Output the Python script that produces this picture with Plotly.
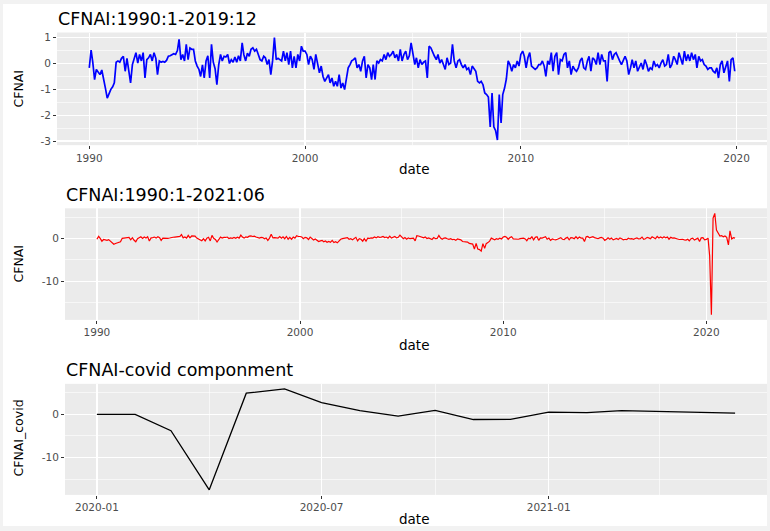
import pandas as pd
import plotly.graph_objects as go

W, H = 770, 531


def px(x):
    return x / W


def py(y):
    return 1 - y / H


# ---------------- data (monthly CFNAI) ----------------
cfnai_1990s = [
    -0.17, 0.52, 0.05, -0.62, -0.23, -0.35, -0.43, -0.25, -0.56, -0.95, -1.34, -1.15,
    -1.00, -0.90, -0.75, 0.05, 0.10, 0.05, 0.20, 0.28, -0.30, 0.20, -0.40, -0.75,
    -0.04, 0.22, 0.42, 0.02, 0.35, 0.10, 0.42, -0.56, 0.15, 0.22, 0.35, 0.10,
    0.42, 0.20, -0.43, 0.10, 0.05, 0.08, 0.05, 0.12, 0.28, 0.30, 0.35, 0.38,
    0.35, 0.50, 0.93, 0.15, 0.35, 0.10, 0.74, 0.15, 0.60, 0.55, 0.55, 0.10,
    -0.10, -0.23, -0.50, -0.05, -0.56, 0.10, 0.30, -0.56, 0.74, 0.05, -0.20, -0.82,
    -0.05, 0.35, 0.10, 0.28, 0.25, 0.35, 0.00, 0.15, 0.05, 0.25, 0.05, 0.30,
    0.10, 0.80, 0.35, 0.10, 0.40, 0.28, 0.55, 0.61, 0.48, 0.55, 0.35, 0.15,
    0.10, 0.28, 0.22, -0.04, 0.15, -0.43, 0.10, 1.00, 0.15, 0.20, 0.15, 0.10,
    0.48, 0.10, 0.42, -0.04, 0.48, -0.17, 0.28, -0.17, 0.35, 0.10, 0.67, 0.48,
]
cfnai_2000s = [
    0.48, 0.35, -0.04, 0.28, 0.15, -0.23, 0.35, -0.04, -0.36, -0.10, -0.50, -0.69,
    -0.56, -0.43, -0.75, -0.56, -0.88, -0.69, -0.88, -0.43, -0.95, -0.75, -1.01, -0.56,
    -0.17, -0.04, 0.10, 0.15, 0.22, -0.17, -0.04, -0.30, 0.10, 0.28, -0.56, -0.04,
    -0.17, -0.62, -0.04, -0.62, 0.10, 0.02, 0.15, 0.10, 0.35, 0.15, 0.42, 0.28,
    0.35, 0.48, 0.22, 0.35, 0.10, 0.55, 0.10, 0.35, 0.48, 0.15, 0.30, 0.80,
    0.42, -0.04, 0.22, -0.17, 0.15, -0.04, 0.05, 0.10, -0.56, 0.67, 0.60, 0.42,
    0.28, 0.15, 0.35, 0.02, 0.15, -0.04, -0.23, 0.22, -0.04, 0.02, 0.74, 0.10,
    -0.17, 0.10, 0.15, -0.04, -0.17, -0.04, -0.23, -0.17, -0.43, -0.10, -0.23, -0.30,
    -0.69, -0.75, -0.69, -0.82, -1.14, -1.20, -1.30, -2.45, -1.14, -2.45, -2.60, -2.96,
    -1.20, -2.30, -1.20, -0.95, -0.60, 0.10, -0.04, -0.30, -0.04, -0.17, 0.10, -0.10,
]
cfnai_2010s = [
    0.35, 0.48, 0.28, -0.17, 0.22, 0.42, -0.10, -0.17, -0.23, -0.17, -0.04, -0.04,
    0.10, -0.10, -0.50, 0.10, -0.04, 0.42, -0.30, 0.28, 0.42, -0.43, 0.15, 0.10,
    0.35, 0.42, -0.17, 0.10, -0.43, -0.10, -0.23, -0.30, -0.17, 0.10, 0.22, -0.17,
    -0.23, 0.10, 0.28, -0.30, 0.22, 0.15, -0.04, 0.42, -0.04, 0.35, 0.10, 0.10,
    -0.69, 0.42, 0.48, 0.15, 0.35, 0.42, 0.22, 0.10, -0.04, 0.15, 0.28, 0.10,
    -0.43, -0.17, 0.15, -0.17, 0.10, -0.30, -0.10, 0.02, -0.23, 0.15, -0.04, -0.30,
    -0.17, -0.23, 0.10, -0.10, -0.04, -0.17, 0.02, 0.15, -0.10, -0.04, 0.35, -0.17,
    -0.04, 0.28, 0.15, -0.04, 0.42, 0.15, -0.04, 0.48, 0.10, 0.35, 0.10, 0.42,
    0.15, 0.35, -0.17, 0.28, 0.10, 0.15, -0.04, -0.10, -0.23, -0.17, -0.17, -0.30,
    -0.36, -0.17, -0.56, -0.04, 0.10, -0.36, -0.17, 0.10, -0.69, 0.15, 0.22, -0.30,
]
cfnai_2020_21 = [-0.2, 0.1, -4.1, -17.9, 4.8, 5.9, 2.0, 1.2, 0.6, 0.7, 0.4, 0.6,
                 0.3, -1.5, 1.8, -0.1, 0.2, 0.1]
covid_component = [0.0, 0.0, -3.8, -17.5, 4.9, 5.9, 2.7, 0.85, -0.4, 0.9, -1.2, -1.15,
                   0.5, 0.4, 0.85, 0.7, 0.46, 0.3]

year_tick_vals = ["1990-01-01", "2000-01-01", "2010-01-01", "2020-01-01"]
year_tick_text = ["1990", "2000", "2010", "2020"]
year_minor_vals = ["1995-01-01", "2005-01-01", "2015-01-01"]
covid_tick_vals = ["2020-01-01", "2020-07-01", "2021-01-01"]
covid_tick_text = ["2020-01", "2020-07", "2021-01"]
covid_minor_vals = ["2020-04-01", "2020-10-01", "2021-04-01"]

titles = ["CFNAI:1990:1-2019:12", "CFNAI:1990:1-2021:06", "CFNAI-covid componment"]
y_titles = ["CFNAI", "CFNAI", "CFNAI_covid"]

# ---------------- build series ----------------
cfnai_pre = cfnai_1990s + cfnai_2000s + cfnai_2010s
cfnai_full = cfnai_pre + cfnai_2020_21
dates_pre = pd.date_range("1990-01-01", periods=len(cfnai_pre), freq="MS")
dates_full = pd.date_range("1990-01-01", periods=len(cfnai_full), freq="MS")
dates_covid = pd.date_range("2020-01-01", periods=len(covid_component), freq="MS")


def expand_num(v):
    lo, hi = min(v), max(v)
    d = (hi - lo) * 0.05
    return [lo - d, hi + d]


def expand_date(d):
    lo, hi = d[0], d[-1]
    e = (hi - lo) * 0.05
    return [(lo - e).strftime("%Y-%m-%d %H:%M:%S"), (hi + e).strftime("%Y-%m-%d %H:%M:%S")]


FONT = "DejaVu Sans"
TICKFONT = dict(family=FONT, size=10.5, color="#4D4D4D")

fig = go.Figure()
fig.add_trace(go.Scatter(x=dates_pre, y=cfnai_pre, mode="lines",
                         line=dict(color="#0000FF", width=1.7), xaxis="x", yaxis="y"))
fig.add_trace(go.Scatter(x=dates_full, y=cfnai_full, mode="lines",
                         line=dict(color="#FF0000", width=1.2), xaxis="x2", yaxis="y2"))
fig.add_trace(go.Scatter(x=dates_covid, y=covid_component, mode="lines",
                         line=dict(color="#000000", width=1.3), xaxis="x3", yaxis="y3"))


def xcfg(domain, rng, tv, tt, mv, anchor):
    return dict(domain=domain, range=rng, type="date", tickmode="array", tickvals=tv, ticktext=tt,
                ticks="outside", ticklen=3, tickwidth=1, tickcolor="#333333",
                tickfont=TICKFONT, showgrid=True, gridcolor="white", gridwidth=1.2,
                zeroline=False, showline=False, anchor=anchor, fixedrange=True,
                minor=dict(tickvals=mv, showgrid=True, gridcolor="white", gridwidth=0.6, ticks=""))


def ycfg(domain, rng, tv, mv, anchor):
    return dict(domain=domain, range=rng, tickmode="array", tickvals=tv,
                ticktext=[str(v) for v in tv],
                ticks="outside", ticklen=3, tickwidth=1, tickcolor="#333333",
                tickfont=TICKFONT, showgrid=True, gridcolor="white", gridwidth=1.2,
                zeroline=False, showline=False, anchor=anchor, fixedrange=True,
                minor=dict(tickvals=mv, showgrid=True, gridcolor="white", gridwidth=0.6, ticks=""))


L1, L2, R = 57, 65, 767
panels = [(31.7, 145.0), (208.5, 320.7), (385.0, 496.7)]

fig.update_layout(
    width=W, height=H,
    margin=dict(l=0, r=0, t=0, b=0),
    paper_bgcolor="white", plot_bgcolor="#EBEBEB",
    showlegend=False,
    xaxis=xcfg([px(L1), px(R)], expand_date(dates_pre), year_tick_vals, year_tick_text,
               year_minor_vals, "y"),
    yaxis=ycfg([py(panels[0][1]), py(panels[0][0])], expand_num(cfnai_pre),
               [-3, -2, -1, 0, 1], [-2.5, -1.5, -0.5, 0.5], "x"),
    xaxis2=xcfg([px(L2), px(R)], expand_date(dates_full), year_tick_vals, year_tick_text,
                year_minor_vals, "y2"),
    yaxis2=ycfg([py(panels[1][1]), py(panels[1][0])], expand_num(cfnai_full),
                [-10, 0], [-15, -5, 5], "x2"),
    xaxis3=xcfg([px(L2), px(R)], expand_date(dates_covid), covid_tick_vals, covid_tick_text,
                covid_minor_vals, "y3"),
    yaxis3=ycfg([py(panels[2][1]), py(panels[2][0])], expand_num(covid_component),
                [-10, 0], [-15, -5, 5], "x3"),
)

ann = []
title_pos = [(L1, 18.0), (L2, 195.0), (L2, 371.0)]
for t, (x, y) in zip(titles, title_pos):
    ann.append(dict(text=t, x=px(x - 1), y=py(y), xref="paper", yref="paper",
                    xanchor="left", yanchor="middle", showarrow=False,
                    font=dict(family=FONT, size=17.5, color="black")))
ylab_pos = [88, 264, 440]
for t, y in zip(y_titles, ylab_pos):
    ann.append(dict(text=t, x=px(19), y=py(y), xref="paper", yref="paper",
                    xanchor="center", yanchor="middle", textangle=-90, showarrow=False,
                    font=dict(family=FONT, size=12.5, color="black")))
for y in [168.5, 345.5, 521.0]:
    ann.append(dict(text="date", x=px(414), y=py(y), xref="paper", yref="paper",
                    xanchor="center", yanchor="middle", showarrow=False,
                    font=dict(family=FONT, size=13.5, color="black")))
fig.update_layout(annotations=ann)

fig.add_shape(type="rect", xref="paper", yref="paper", x0=0, y0=0, x1=1, y1=1,
              line=dict(color="#F2F2F2", width=6), layer="above")

fig.write_html("out.html",
               config={"displayModeBar": False, "staticPlot": True},
               post_script="document.body.style.margin='0px';document.body.style.overflow='hidden';")
